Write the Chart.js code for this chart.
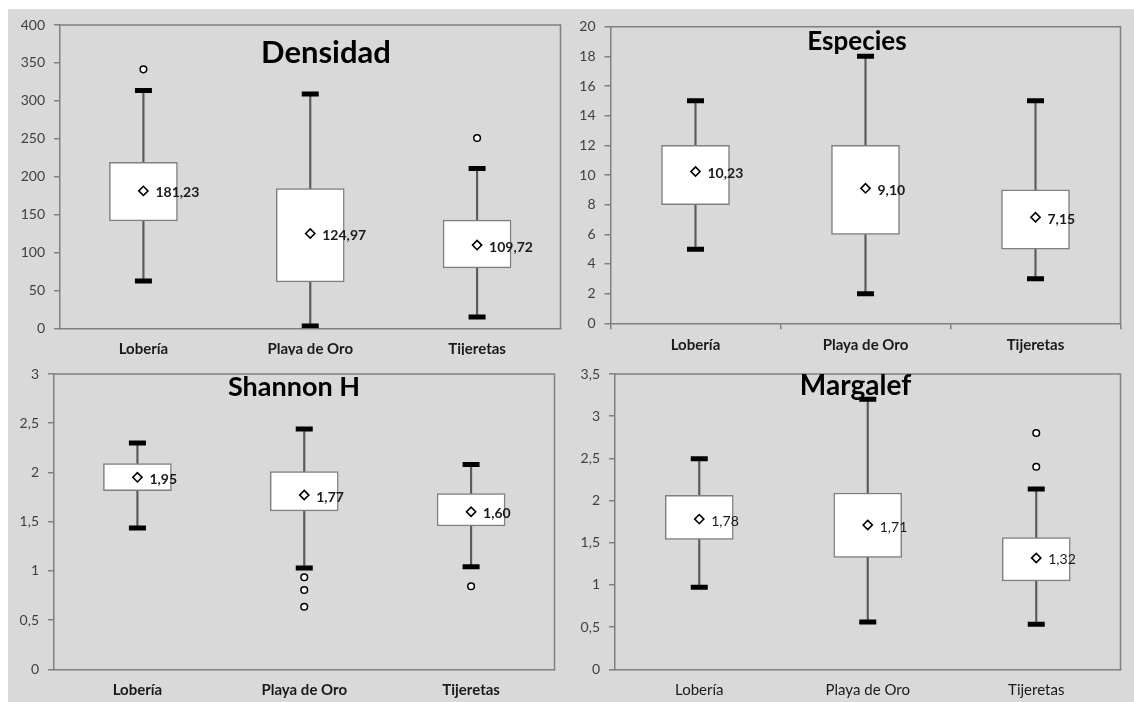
<!DOCTYPE html>
<html>
<head>
<meta charset="utf-8">
<script src="https://cdn.jsdelivr.net/npm/chart.js@4.4.1/dist/chart.umd.min.js"></script>
<style>
  html, body { margin: 0; padding: 0; background: #ffffff; }
  #sheet { position: absolute; left: 8px; top: 9px; width: 1126px; height: 693px; background: #d9d9d9; }
  .cell { position: absolute; overflow: hidden; }
  canvas { display: block; }
</style>
</head>
<body>
<div id="sheet">
  <div class="cell" style="left:0;top:0;width:560px;height:346px"><canvas id="cDens" width="566" height="346"></canvas></div>
  <div class="cell" style="left:560px;top:0;width:566px;height:346px"><canvas id="cEsp" width="566" height="346"></canvas></div>
  <div class="cell" style="left:0;top:346px;width:560px;height:347px"><canvas id="cShan" width="560" height="347"></canvas></div>
  <div class="cell" style="left:560px;top:346px;width:566px;height:347px"><canvas id="cMarg" width="566" height="347"></canvas></div>
</div>
<script>
// Sampling sites (x categories)
const sites = ['Lobería', 'Playa de Oro', 'Tijeretas'];

// Densidad
const densTicks = [0, 50, 100, 150, 200, 250, 300, 350, 400];
const densQ1 = [141.6, 61.2, 79.6];
const densQ3 = [219, 184.4, 142.6];
const densMin = [62.5, 3, 15];
const densMax = [313.7, 309, 210.8];
const densMean = [181.23, 124.97, 109.72];
const densOutliers = [[341.5], [], [251]];

// Especies
const espTicks = [0, 2, 4, 6, 8, 10, 12, 14, 16, 18, 20];
const espQ1 = [8, 6, 5];
const espQ3 = [12, 12, 9];
const espMin = [5, 2, 3];
const espMax = [15, 18, 15];
const espMean = [10.23, 9.10, 7.15];
const espOutliers = [[], [], []];

// Shannon H
const shanTicks = [0, 0.5, 1, 1.5, 2, 2.5, 3];
const shanQ1 = [1.815, 1.609, 1.456];
const shanQ3 = [2.09, 2.008, 1.785];
const shanMin = [1.436, 1.03, 1.043];
const shanMax = [2.30, 2.44, 2.08];
const shanMean = [1.95, 1.77, 1.60];
const shanOutliers = [[], [0.935, 0.806, 0.636], [0.843]];

// Margalef
const margTicks = [0, 0.5, 1, 1.5, 2, 2.5, 3, 3.5];
const margQ1 = [1.54, 1.327, 1.047];
const margQ3 = [2.062, 2.09, 1.56];
const margMin = [0.972, 0.56, 0.533];
const margMax = [2.496, 3.2, 2.137];
const margMean = [1.78, 1.71, 1.32];
const margOutliers = [[], [], [2.80, 2.40]];

const AXIS = '#808080';
const comma = v => String(v).replace('.', ',');

// Top and right edges of the plot frame
const frame = {
  id: 'frame',
  beforeDatasetsDraw(chart) {
    const { ctx, chartArea: a } = chart;
    ctx.save();
    ctx.strokeStyle = AXIS;
    ctx.lineWidth = 1.5;
    ctx.beginPath();
    ctx.moveTo(a.left, a.top);
    ctx.lineTo(a.right, a.top);
    ctx.lineTo(a.right, a.bottom);
    ctx.stroke();
    ctx.restore();
  }
};

// Mean value printed beside each diamond
const meanLabels = {
  id: 'meanLabels',
  afterDatasetsDraw(chart, args, opts) {
    const meta = chart.getDatasetMeta(0);
    const values = chart.data.datasets[0].data;
    const ctx = chart.ctx;
    ctx.save();
    ctx.font = opts.font;
    ctx.fillStyle = '#1a1a1a';
    ctx.textAlign = 'left';
    ctx.textBaseline = 'middle';
    meta.data.forEach((pt, i) => {
      ctx.fillText(values[i].toFixed(2).replace('.', ','), pt.x + 12, pt.y + 2);
    });
    ctx.restore();
  }
};

// Panel heading drawn inside the plot
const heading = {
  id: 'heading',
  afterDraw(chart, args, opts) {
    const ctx = chart.ctx;
    ctx.save();
    ctx.font = opts.font;
    ctx.fillStyle = '#000000';
    ctx.textAlign = 'center';
    ctx.textBaseline = 'alphabetic';
    ctx.fillText(opts.text, opts.x, opts.y);
    ctx.restore();
  }
};

function boxChart(id, s, look) {
  const outlierPts = [];
  s.outliers.forEach((list, i) => list.forEach(v => outlierPts.push({ x: sites[i], y: v })));
  const catWeight = look.bold ? 'bold' : 'normal';
  return new Chart(document.getElementById(id), {
    type: 'bar',
    data: {
      labels: sites,
      datasets: [
        { type: 'line', data: s.mean, showLine: false, pointStyle: 'rectRot', pointRadius: 4.6,
          pointBackgroundColor: '#ffffff', pointBorderColor: '#000000', pointBorderWidth: 1.6, order: 0 },
        { type: 'line', data: outlierPts, showLine: false, pointStyle: 'circle', pointRadius: 3.3,
          pointBackgroundColor: '#ffffff', pointBorderColor: '#000000', pointBorderWidth: 1.5, order: 0 },
        { type: 'line', data: s.max, showLine: false, pointStyle: 'line', pointRadius: 8.5,
          pointBorderColor: '#000000', pointBorderWidth: 5, order: 1 },
        { type: 'line', data: s.min, showLine: false, pointStyle: 'line', pointRadius: 8.5,
          pointBorderColor: '#000000', pointBorderWidth: 5, order: 1 },
        { type: 'bar', data: s.q1.map((v, i) => [v, s.q3[i]]), backgroundColor: '#ffffff',
          borderColor: AXIS, borderWidth: 1.5, borderSkipped: false, barThickness: 68, grouped: false, order: 2 },
        { type: 'bar', data: s.min.map((v, i) => [v, s.max[i]]), backgroundColor: '#5a5a5a',
          borderWidth: 0, barThickness: 1.5, grouped: false, order: 3 }
      ]
    },
    options: {
      responsive: false,
      animation: false,
      events: [],
      layout: { padding: { top: look.top, right: look.right, left: 0, bottom: 0 } },
      plugins: {
        legend: { display: false },
        tooltip: { enabled: false },
        meanLabels: { font: (look.bold ? 'bold ' : '') + '14px Lato' },
        heading: { text: look.title, font: 'bold ' + look.titleSize + 'px Lato', x: look.titleX, y: look.titleY }
      },
      scales: {
        x: {
          afterFit: sc => { sc.height = look.xH; sc.paddingLeft = 0; sc.paddingRight = 0; },
          grid: { display: look.catTicks, drawOnChartArea: false, drawTicks: look.catTicks, tickLength: 6, color: AXIS, lineWidth: 1.5 },
          border: { color: AXIS, width: 1.5 },
          ticks: { padding: look.catTicks ? 7 : 12, color: '#1a1a1a', font: { family: 'Lato', size: 15, weight: catWeight } }
        },
        y: {
          min: s.ticks[0],
          max: s.ticks[s.ticks.length - 1],
          afterBuildTicks: sc => { sc.ticks = s.ticks.map(v => ({ value: v })); },
          afterFit: sc => { sc.width = look.yW; sc.paddingTop = 0; sc.paddingBottom = 0; },
          grid: { drawOnChartArea: false, tickLength: 6, color: AXIS, lineWidth: 1.5 },
          border: { color: AXIS, width: 1.5 },
          ticks: { padding: 9, color: '#404040', font: { family: 'Lato', size: 14 }, callback: v => comma(v) }
        }
      }
    },
    plugins: [frame, meanLabels, heading]
  });
}

function draw() {
  boxChart('cDens',
    { ticks: densTicks, q1: densQ1, q3: densQ3, min: densMin, max: densMax, mean: densMean, outliers: densOutliers },
    { title: 'Densidad', titleSize: 31, titleX: 318, titleY: 54, bold: true, catTicks: false,
      top: 16, right: 1.5, yW: 52, xH: 26.7 });
  boxChart('cEsp',
    { ticks: espTicks, q1: espQ1, q3: espQ3, min: espMin, max: espMax, mean: espMean, outliers: espOutliers },
    { title: 'Especies', titleSize: 26, titleX: 289, titleY: 41, bold: true, catTicks: true,
      top: 17.7, right: 9, yW: 42.5, xH: 31.7 });
  boxChart('cShan',
    { ticks: shanTicks, q1: shanQ1, q3: shanQ3, min: shanMin, max: shanMax, mean: shanMean, outliers: shanOutliers },
    { title: 'Shannon H', titleSize: 27, titleX: 286, titleY: 40.7, bold: true, catTicks: false,
      top: 19, right: 5, yW: 46, xH: 32.7 });
  boxChart('cMarg',
    { ticks: margTicks, q1: margQ1, q3: margQ3, min: margMin, max: margMax, mean: margMean, outliers: margOutliers },
    { title: 'Margalef', titleSize: 28, titleX: 287.5, titleY: 40, bold: false, catTicks: false,
      top: 19, right: 9, yW: 47, xH: 32.7 });
}

Promise.all([
  document.fonts.load('14px Lato'),
  document.fonts.load('bold 14px Lato')
]).then(draw, draw);
</script>
</body>
</html>
